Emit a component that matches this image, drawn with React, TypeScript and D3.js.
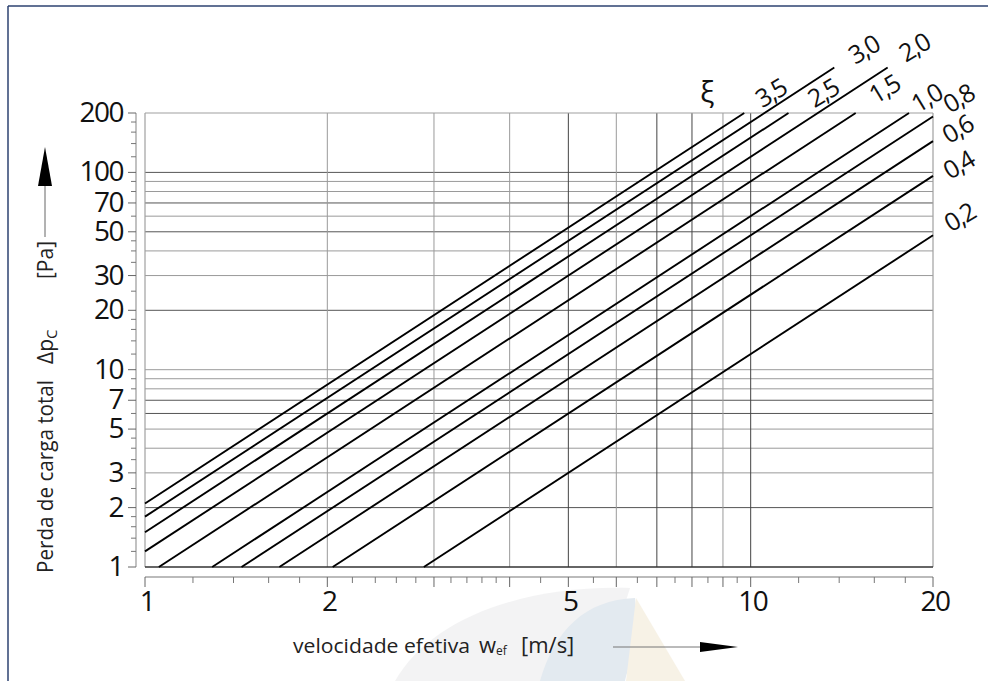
import * as d3 from 'd3'

// loss coefficients ξ drawn as lines, Δp = ξ · ρ/2 · w²
const xiValues = [0.2, 0.4, 0.6, 0.8, 1.0, 1.5, 2.0, 2.5, 3.0, 3.5]
const xiLabels = ['0,2', '0,4', '0,6', '0,8', '1,0', '1,5', '2,0', '2,5', '3,0', '3,5']
// lines that run on past the frame up to their label (Pa reached)
const xiExtendedTo = [200, 200, 200, 200, 200, 200, 340, 200, 340, 200]
const airDensity = 1.2

const xTickLabels = [1, 2, 5, 10, 20]
const xMinorTicks = [1.2, 1.4, 1.6, 1.8, 2.2, 2.4, 2.6, 2.8, 3.2, 3.4, 3.6, 3.8, 4.5, 5.5, 6.5, 7.5, 8.5, 9.5, 12, 14, 16, 18]
const xMajorTicks = [1, 2, 3, 4, 5, 6, 7, 8, 9, 10, 20]
const xGrid = [2, 3, 4, 5, 6, 7, 8, 9, 10]
const xGridDark = [5, 7, 8, 10]

const yTickLabels = [1, 2, 3, 5, 7, 10, 20, 30, 50, 70, 100, 200]
const yMinorTicks = [1.2, 1.4, 1.6, 1.8, 2.5, 3.5, 4, 4.5, 6, 8, 9, 12, 14, 16, 18, 25, 35, 40, 45, 60, 80, 90, 120, 140, 160, 180]
const yGrid = [2, 3, 4, 5, 6, 7, 8, 9, 10, 20, 30, 40, 50, 60, 70, 80, 90, 100]
const yGridDark = [2, 6, 7, 20, 50, 70, 100]

const W = 988
const H = 681
const margin = { top: 113, right: 55, bottom: 114, left: 145 }
const FONT = '"Open Sans", "Noto Sans", sans-serif'

// small label nudges relative to each line's end
const labelNudge: Record<string, [number, number]> = {
  '3,5': [26, -21], '3,0': [29, -19], '2,5': [34, -21], '2,0': [26, -21],
  '1,5': [28, -25], '1,0': [17, -16], '0,8': [25, -19], '0,6': [24, -13],
  '0,4': [25, -12], '0,2': [26, -19],
}

const App = () => {
  const x = d3.scaleLog().domain([1, 20]).range([margin.left, W - margin.right])
  const y = d3.scaleLog().domain([1, 200]).range([H - margin.bottom, margin.top])
  const [x0, x1] = x.range()
  const [y0, y1] = y.range()

  const line = d3.line<[number, number]>().x((d) => x(d[0])).y((d) => y(d[1]))

  const curves = xiValues.map((xi, i) => {
    const k = xi * airDensity / 2
    const pEnd = xiExtendedTo[i]
    const wStart = Math.max(1, Math.sqrt(1 / k))
    const wEnd = Math.min(20, Math.sqrt(pEnd / k))
    const pts: [number, number][] = [[wStart, k * wStart * wStart], [wEnd, k * wEnd * wEnd]]
    return { xi, label: xiLabels[i], pts }
  })

  const axisY = y0 + 10
  const tickAxisX = x0 - 9

  return (
    <svg width={W} height={H} style={{ position: 'absolute', left: 0, top: 0, background: '#fff' }} fontFamily={FONT}>
      {/* faint watermark */}
      <g opacity={0.5}>
        <path d="M395,681 C430,620 520,585 630,588 L600,681 Z" fill="#e8e8ea" />
        <path d="M540,681 C555,630 585,600 635,598 C640,640 630,660 625,681 Z" fill="#c9d6e2" />
        <path d="M636,598 L685,681 L626,681 Z" fill="#f1e6cf" />
      </g>

      {/* outer frame */}
      <line x1={8} x2={W} y1={6} y2={6} stroke="#2c4270" strokeWidth={1.5} />
      <line x1={8} x2={8} y1={6} y2={H} stroke="#2c4270" strokeWidth={1.5} />

      {/* grid */}
      {yGrid.map((v) => (
        <line key={'gy' + v} x1={x0} x2={x1} y1={y(v)} y2={y(v)}
          stroke={yGridDark.includes(v) ? '#555' : '#9a9a9a'} strokeWidth={1} />
      ))}
      {xGrid.map((v) => (
        <line key={'gx' + v} x1={x(v)} x2={x(v)} y1={y1} y2={y0}
          stroke={xGridDark.includes(v) ? '#444' : '#9a9a9a'} strokeWidth={1} />
      ))}

      {/* plot frame */}
      <line x1={x0} x2={x1} y1={y1} y2={y1} stroke="#a0a0a0" strokeWidth={1.2} />
      <line x1={x0} x2={x0} y1={y1} y2={y0} stroke="#a0a0a0" strokeWidth={1.2} />
      <line x1={x1} x2={x1} y1={y1} y2={y0} stroke="#a0a0a0" strokeWidth={1.2} />
      <line x1={x0} x2={x1} y1={y0} y2={y0} stroke="#333" strokeWidth={1.5} />

      {/* ξ lines */}
      {curves.map((c) => (
        <path key={c.label} d={line(c.pts) ?? ''} fill="none" stroke="#000" strokeWidth={1.9} />
      ))}
      {curves.map((c) => {
        const end = c.pts[1]
        const [dx, dy] = labelNudge[c.label]
        const cx = x(end[0]) + dx
        const cy = y(end[1]) + dy
        return (
          <text key={'l' + c.label} x={cx} y={cy} fontSize={25} letterSpacing={-1.5}
            textAnchor="middle" dominantBaseline="central" transform={`rotate(-31 ${cx} ${cy})`} fill="#111">
            {c.label}
          </text>
        )
      })}
      <text x={707} y={90} fontSize={30} textAnchor="middle" dominantBaseline="central" fill="#111">ξ</text>

      {/* y tick axis */}
      <line x1={tickAxisX} x2={tickAxisX} y1={y1} y2={y0} stroke="#bbb" strokeWidth={1.8} />
      {yTickLabels.map((v) => (
        <g key={'yt' + v}>
          <line x1={tickAxisX - 8} x2={tickAxisX} y1={y(v)} y2={y(v)} stroke="#666" />
          <text x={x0 - 22} y={y(v) - 2} fontSize={28} letterSpacing={-1.5} textAnchor="end"
            dominantBaseline="central" fill="#111">{v}</text>
        </g>
      ))}
      {yMinorTicks.map((v) => (
        <line key={'ym' + v} x1={tickAxisX - 5} x2={tickAxisX} y1={y(v)} y2={y(v)} stroke="#777" />
      ))}

      {/* x tick axis */}
      <line x1={x0} x2={x1} y1={axisY} y2={axisY} stroke="#bbb" strokeWidth={1.8} />
      {xMajorTicks.map((v) => (
        <line key={'xt' + v} x1={x(v)} x2={x(v)} y1={axisY} y2={axisY + 10} stroke="#666" />
      ))}
      {xMinorTicks.map((v) => (
        <line key={'xm' + v} x1={x(v)} x2={x(v)} y1={axisY} y2={axisY + 6} stroke="#777" />
      ))}
      {xTickLabels.map((v) => (
        <text key={'xl' + v} x={x(v) + 2} y={y0 + 44} fontSize={28} letterSpacing={-1.5}
          textAnchor="middle" fill="#111">{v}</text>
      ))}

      {/* x axis title */}
      <text y={653} fontSize={20} fill="#222">
        <tspan x={293} textLength={177} lengthAdjust="spacingAndGlyphs">velocidade efetiva</tspan>
        <tspan x={479} fontSize={22}>w</tspan>
        <tspan fontSize={12} dy={2}>ef</tspan>
        <tspan x={521} dy={-2} fontSize={22}>[m/s]</tspan>
      </text>
      <line x1={613} x2={705} y1={647} y2={647} stroke="#777" strokeWidth={1} />
      <path d="M700,642 L738,647 L700,652 Z" fill="#000" />

      {/* y axis title */}
      <g transform="translate(53,573) rotate(-90)">
        <text fontSize={21} fill="#222">
          <tspan x={0} y={0} textLength={193} lengthAdjust="spacingAndGlyphs">Perda de carga total</tspan>
          <tspan x={209}>Δp</tspan>
          <tspan fontSize={15} dy={4}>C</tspan>
          <tspan x={294} dy={-4}>[Pa]</tspan>
        </text>
      </g>
      <line x1={45} x2={45} y1={237} y2={183} stroke="#666" strokeWidth={1} />
      <path d="M45,147 L52,186 L38,186 Z" fill="#000" />
    </svg>
  )
}

export default App
